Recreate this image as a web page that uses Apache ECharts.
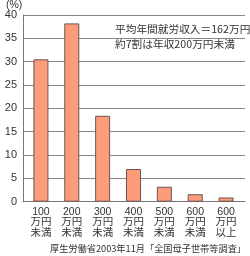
<!DOCTYPE html>
<html><head><meta charset="utf-8">
<script src="https://cdn.jsdelivr.net/npm/echarts@6/dist/echarts.min.js"></script>
<style>html,body{margin:0;padding:0;background:#fff}#c{width:250px;height:256px}</style>
</head><body><div id="c"></div>
<script>
const categories = ['100\n万円\n未満','200\n万円\n未満','300\n万円\n未満','400\n万円\n未満','500\n万円\n未満','600\n万円\n未満','600\n万円\n以上'];
const values = [30.5, 38.2, 18.4, 7.0, 3.2, 1.6, 0.9];
const yTicks = [0, 5, 10, 15, 20, 25, 30, 35, 40];
const FONT = '"Liberation Sans", "Noto Sans CJK JP", sans-serif';
const JP = '"Noto Sans CJK JP", sans-serif';
const chart = echarts.init(document.getElementById('c'), null, {renderer:'canvas'});
chart.setOption({
  animation:false,
  grid:[
    {left:23, right:5, top:15, bottom:54.3},
    {left:25.5, right:8.5, top:15, bottom:54.3}
  ],
  xAxis:[
    {gridIndex:0, type:'value', min:0, max:1, axisLine:{show:true, lineStyle:{color:'#777', width:1}}, axisTick:{show:false}, axisLabel:{show:false}, splitLine:{show:false}},
    {gridIndex:1, type:'category', data:categories, axisLine:{show:false}, axisTick:{show:false},
     axisLabel:{color:'#333', fontSize:10.5, fontFamily:FONT, lineHeight:10.6, margin:5, interval:0}}
  ],
  yAxis:[
    {gridIndex:0, type:'value', min:yTicks[0], max:yTicks[yTicks.length-1], interval:5,
     axisLine:{show:true, lineStyle:{color:'#777', width:1}}, axisTick:{show:false},
     axisLabel:{color:'#333', fontSize:11, fontFamily:FONT, margin:6},
     splitLine:{show:true, lineStyle:{color:'#888', width:1}}},
    {gridIndex:1, type:'value', min:0, max:40, show:false}
  ],
  series:[{
    type:'bar', xAxisIndex:1, yAxisIndex:1, data:values, barWidth:15,
    itemStyle:{color:'#fd9b7b', borderColor:'#6a5550', borderWidth:1}
  }],
  graphic:[
    {type:'text', left:6, top:0, style:{text:'(%)', fontSize:10.5, fontFamily:FONT, fill:'#333'}},
    {type:'text', left:115, top:24, style:{text:'平均年間就労収入＝162万円', fontSize:10.7, fontFamily:JP, fill:'#333'}},
    {type:'text', left:115, top:38.5, style:{text:'約7割は年収200万円未満', fontSize:10.7, fontFamily:JP, fill:'#333'}},
    {type:'text', right:4, top:244, style:{text:'厚生労働省2003年11月「全国母子世帯等調査」', fontSize:9.2, fontFamily:JP, fill:'#333'}}
  ]
});
</script></body></html>
